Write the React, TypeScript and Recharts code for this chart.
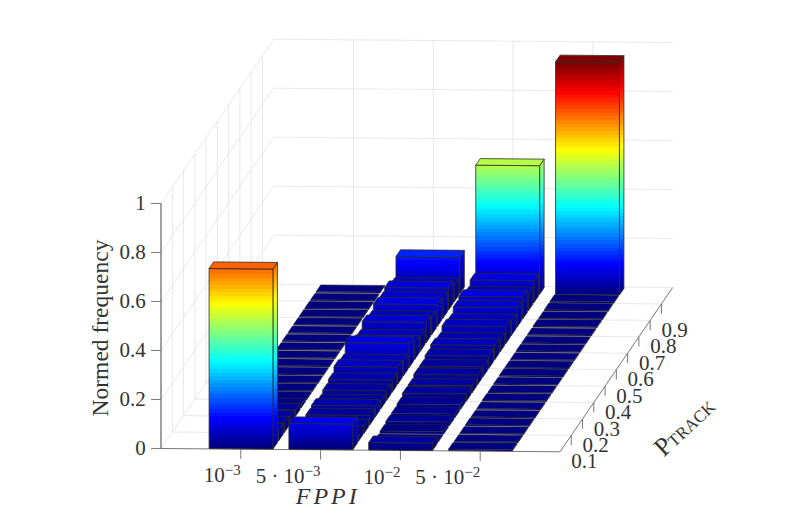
import React from 'react'
import { ScatterChart, Scatter, XAxis, YAxis, Polygon } from 'recharts'

// normed frequency per P_TRACK bin (0.05 steps), one list per FPPI level
const fppi1e3 = [0.735, 0.045, 0.04, 0.03, 0.025, 0.012, 0.006, 0.005, 0.004, 0.004, 0.004, 0.004, 0.004, 0.004, 0.004, 0.004, 0.004, 0.004, 0.004, 0.004]
const fppi5e3 = [0.105, 0.02, 0.03, 0.04, 0.045, 0.03, 0.04, 0.05, 0.07, 0.06, 0.1, 0.07, 0.06, 0.085, 0.07, 0.09, 0.08, 0.09, 0.07, 0.15]
const fppi1e2 = [0.03, 0.005, 0.01, 0.015, 0.015, 0.02, 0.03, 0.03, 0.04, 0.04, 0.05, 0.06, 0.05, 0.07, 0.06, 0.08, 0.09, 0.07, 0.09, 0.525]
const fppi5e2 = [0.006, 0.004, 0.004, 0.005, 0.004, 0.004, 0.005, 0.004, 0.004, 0.005, 0.004, 0.004, 0.005, 0.004, 0.004, 0.005, 0.004, 0.005, 0.006, 0.95]

const columns = [fppi1e3, fppi5e3, fppi1e2, fppi5e2]
const fppiTicks = [1, 2, 3, 4]
const fppiBases = ['10', '5 · 10', '10', '5 · 10']
const fppiExps = ['−3', '−3', '−2', '−2']
const trackTicks = [0.1, 0.2, 0.3, 0.4, 0.5, 0.6, 0.7, 0.8, 0.9]
const trackLabels = ['0.1', '0.2', '0.3', '0.4', '0.5', '0.6', '0.7', '0.8', '0.9']
const freqTicks = [0, 0.2, 0.4, 0.6, 0.8, 1]
const freqLabels = ['0', '0.2', '0.4', '0.6', '0.8', '1']

const WIDTH = 806
const HEIGHT = 513
const FONT = '"Liberation Serif", serif'
const INK = '#333333'
const EDGE = '#2b2b2b'
const GRID = '#e8e8e8'
const AXIS = '#777777'
const LEVELS = 64

// orthographic view of the 3d box
const project = (x: number, t: number, z: number) => ({
  x: 161 + x * 79.8 + t * 112.7,
  y: 448.5 + x * 0.66 - t * 164.3 - z * 245,
})

const maxValue = Math.max(...columns.flat())

const clamp = (v: number) => Math.max(0, Math.min(1, v))
const jet = (u: number) => {
  const c = (k: number) => Math.round(clamp(1.5 - Math.abs(4 * u - k)) * 255)
  return `rgb(${c(3)},${c(2)},${c(1)})`
}
const levelColor = (level: number) => jet(Math.min(level, LEVELS - 1) / (LEVELS - 1))

function BarGradient({ id, value }: { id: string; value: number }) {
  const top = Math.min(Math.ceil((value / maxValue) * LEVELS), LEVELS)
  const stops: React.ReactNode[] = []
  for (let level = top - 1; level >= 0; level--) {
    const hi = Math.min(1, (((level + 1) / LEVELS) * maxValue) / value)
    const lo = ((level / LEVELS) * maxValue) / value
    stops.push(<stop key={`${level}a`} offset={1 - hi} stopColor={levelColor(level)} />)
    stops.push(<stop key={`${level}b`} offset={1 - lo} stopColor={levelColor(level)} />)
  }
  return (
    <linearGradient id={id} x1="0" y1="0" x2="0" y2="1">
      {stops}
    </linearGradient>
  )
}

const noDot = () => <g />

const face = (key: string, points: { x: number; y: number }[], fill: string, edge: number) => (
  <Scatter
    key={key}
    data={points}
    shape={noDot}
    isAnimationActive={false}
    line={(p: any) => <Polygon points={p.points} fill={fill} stroke={EDGE} strokeWidth={edge} strokeLinejoin="round" />}
  />
)

const segment = (key: string, a: number[], b: number[], stroke: string, width = 1) => (
  <Scatter
    key={key}
    data={[project(a[0], a[1], a[2]), project(b[0], b[1], b[2])]}
    shape={noDot}
    isAnimationActive={false}
    line={{ stroke, strokeWidth: width }}
  />
)

// text placed at an anchor in the chart's own coordinates
const label = (key: string, anchor: { x: number; y: number }, render: (cx: number, cy: number) => React.ReactElement) => (
  <Scatter
    key={key}
    data={[anchor]}
    isAnimationActive={false}
    shape={(p: any) => render(p.cx, p.cy)}
  />
)

const textStyle = { fontFamily: FONT, fontSize: 21, fill: INK }

export default function App() {
  const gridLines: React.ReactNode[] = []
  freqTicks.forEach((z, i) => {
    gridLines.push(segment(`wl${i}`, [0, 0, z], [0, 1, z], GRID))
    gridLines.push(segment(`wb${i}`, [0, 1, z], [5, 1, z], GRID))
  })
  fppiTicks.forEach((x, i) => {
    gridLines.push(segment(`xb${i}`, [x, 1, 0], [x, 1, 1], GRID))
    gridLines.push(segment(`xf${i}`, [x, 0, 0], [x, 1, 0], GRID))
  })
  trackTicks.forEach((t, i) => {
    gridLines.push(segment(`yw${i}`, [0, t, 0], [0, t, 1], GRID))
    gridLines.push(segment(`yf${i}`, [0, t, 0], [5, t, 0], GRID))
  })

  const axisLines: React.ReactNode[] = [
    segment('zaxis', [0, 0, 0], [0, 0, 1], AXIS, 1.4),
    segment('xaxis', [0, 0, 0], [5, 0, 0], AXIS),
    segment('yaxis', [5, 0, 0], [5, 1, 0], AXIS),
  ]
  freqTicks.forEach((z, i) => axisLines.push(segment(`zt${i}`, [0, 0, z], [-0.125, 0, z], AXIS)))
  fppiTicks.forEach((x, i) => axisLines.push(segment(`xt${i}`, [x, 0, 0], [x, 0, -0.04], AXIS)))
  trackTicks.forEach((t, i) => axisLines.push(segment(`yt${i}`, [5, t, 0], [5, t, -0.04], AXIS)))

  // painter's order: back rows first, left to right in each row
  const bars: React.ReactNode[] = []
  const gradients: React.ReactNode[] = []
  const rowCount = columns[0].length
  for (let r = rowCount - 1; r >= 0; r--) {
    columns.forEach((col, c) => {
      const v = col[r]
      const id = `bar-${c}-${r}`
      const edge = v > 0.02 ? 0.8 : 0.45
      gradients.push(<BarGradient key={id} id={id} value={v} />)
      const x0 = fppiTicks[c] - 0.4
      const x1 = fppiTicks[c] + 0.4
      const t0 = r * 0.05 + 0.002
      const t1 = t0 + 0.04
      bars.push(face(`${id}s`, [project(x1, t0, 0), project(x1, t1, 0), project(x1, t1, v), project(x1, t0, v)], `url(#${id})`, edge))
      bars.push(face(`${id}f`, [project(x0, t0, 0), project(x1, t0, 0), project(x1, t0, v), project(x0, t0, v)], `url(#${id})`, edge))
      bars.push(face(`${id}t`, [project(x0, t0, v), project(x1, t0, v), project(x1, t1, v), project(x0, t1, v)], levelColor(Math.ceil((v / maxValue) * LEVELS) - 1), edge))
    })
  }

  const labels: React.ReactNode[] = []
  freqTicks.forEach((z, i) => {
    const a = project(-0.19, 0, z)
    labels.push(label(`zl${i}`, a, (cx, cy) => (
      <text x={cx} y={cy + 6.5} textAnchor="end" {...textStyle}>{freqLabels[i]}</text>
    )))
  })
  fppiTicks.forEach((x, i) => {
    const a = project(x, 0, -0.135)
    labels.push(label(`xl${i}`, a, (cx, cy) => (
      <text x={cx} y={cy} textAnchor="end" {...textStyle}>
        {fppiBases[i]}
        <tspan dy={-7} fontSize={15}>{fppiExps[i]}</tspan>
      </text>
    )))
  })
  trackTicks.forEach((t, i) => {
    const a = project(5, t, -0.135)
    labels.push(label(`yl${i}`, a, (cx, cy) => (
      <text x={cx} y={cy} {...textStyle}>{trackLabels[i]}</text>
    )))
  })
  labels.push(label('xtitle', project(2.09, 0, -0.22), (cx, cy) => (
    <text x={cx} y={cy} textAnchor="middle" fontStyle="italic" letterSpacing={3} {...textStyle} fontSize={24}>FPPI</text>
  )))
  labels.push(label('ztitle', project(-0.66, 0, 0.49), (cx, cy) => (
    <text x={cx} y={cy} textAnchor="middle" transform={`rotate(-90 ${cx} ${cy})`} {...textStyle} fontSize={23.5}>Normed frequency</text>
  )))
  labels.push(label('ytitle', project(6.3, 0.0, -0.02), (cx, cy) => (
    <text x={cx} y={cy} transform={`rotate(-43 ${cx} ${cy})`} {...textStyle} fontSize={26}>
      P<tspan fontSize={17}>TRACK</tspan>
    </text>
  )))

  return (
    <div style={{ position: 'absolute', left: 0, top: 0, width: WIDTH, height: HEIGHT, background: '#fff' }}>
      <ScatterChart width={WIDTH} height={HEIGHT} margin={{ top: 0, right: 0, bottom: 0, left: 0 }}>
        <defs>{gradients}</defs>
        <XAxis type="number" dataKey="x" domain={[0, WIDTH]} hide />
        <YAxis type="number" dataKey="y" domain={[0, HEIGHT]} reversed hide />
        {gridLines}
        {axisLines}
        {bars}
        {labels}
      </ScatterChart>
    </div>
  )
}
